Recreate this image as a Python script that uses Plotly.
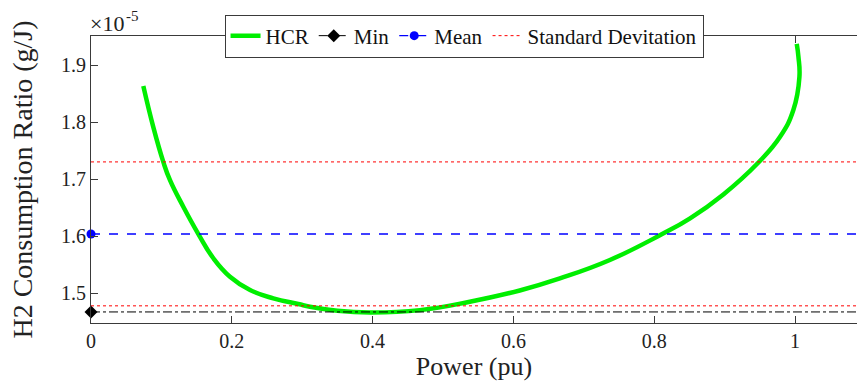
import plotly.graph_objects as go

# HCR curve (power in pu, ratio in units of 1e-5 g/J)
power = [0.0743, 0.0885, 0.1027, 0.1122, 0.1311, 0.1525, 0.1738, 0.1974, 0.2259, 0.2590,
         0.2945, 0.3110, 0.3500, 0.3960, 0.4670, 0.5380, 0.6090, 0.6660, 0.7370,
         0.8106, 0.8509, 0.8982, 0.9480, 0.9787, 0.9976, 1.0062, 1.0048, 1.0024]
hcr = [1.863, 1.791, 1.730, 1.698, 1.6514, 1.6035, 1.561, 1.5286, 1.5053, 1.4907,
       1.4807, 1.476, 1.469, 1.466, 1.470, 1.4847, 1.5045, 1.5257, 1.558,
       1.603, 1.631, 1.673, 1.729, 1.774, 1.821, 1.879, 1.9146, 1.937]

min_val = 1.4668
mean_val = 1.6035
std_upper = 1.730
std_lower = 1.4775

x_ticks = [0, 0.2, 0.4, 0.6, 0.8, 1]
x_tick_labels = ["0", "0.2", "0.4", "0.6", "0.8", "1"]
y_ticks = [1.5, 1.6, 1.7, 1.8, 1.9]
y_tick_labels = ["1.5", "1.6", "1.7", "1.8", "1.9"]

x_range = [0, 1.088]
y_range = [1.4474, 1.9509]
h_x = [0, 5]

FONT = "Liberation Serif"
AX = "#3a3a3a"
TXT = "#222222"

fig = go.Figure()
fig.add_trace(go.Scatter(x=power, y=hcr, mode="lines", name="HCR",
                         line=dict(color="#00ee00", width=4.5, shape="spline", smoothing=1.3)))
fig.add_trace(go.Scatter(x=h_x, y=[min_val, min_val], mode="lines+markers", name="Min",
                         line=dict(color="black", width=1, dash="dashdot"),
                         marker=dict(symbol="diamond", size=10, color="black"),
                         cliponaxis=False))
fig.add_trace(go.Scatter(x=h_x, y=[mean_val, mean_val], mode="lines+markers", name="Mean",
                         line=dict(color="#0000ff", width=1.3, dash="dash"),
                         marker=dict(symbol="circle", size=9, color="#0000ff"),
                         cliponaxis=False))
fig.add_trace(go.Scatter(x=h_x, y=[std_upper, std_upper], mode="lines",
                         name="Standard Devitation",
                         line=dict(color="#ff0000", width=1, dash="dot")))
fig.add_trace(go.Scatter(x=h_x, y=[std_lower, std_lower], mode="lines",
                         showlegend=False,
                         line=dict(color="#ff0000", width=1, dash="dot")))

fig.update_layout(
    width=857, height=385,
    margin=dict(l=91, r=0, t=36, b=62),
    paper_bgcolor="white", plot_bgcolor="white",
    font=dict(family=FONT, size=19, color=TXT),
    legend=dict(orientation="h", x=0.487, xanchor="center", y=1.0, yanchor="middle",
                bgcolor="white", bordercolor=AX, borderwidth=1,
                font=dict(family=FONT, size=21, color="#111"),
                tracegroupgap=0, itemwidth=30),
    xaxis=dict(range=x_range, tickvals=x_ticks, ticktext=x_tick_labels,
               ticks="inside", ticklen=7, tickcolor=AX, showline=True, linecolor=AX,
               linewidth=1, mirror="ticks", showgrid=False, zeroline=False,
               title=dict(text="Power (pu)", standoff=3,
                          font=dict(family=FONT, size=26, color=TXT)),
               tickfont=dict(family=FONT, size=20, color=TXT)),
    yaxis=dict(range=y_range, tickvals=y_ticks, ticktext=y_tick_labels,
               ticks="inside", ticklen=7, tickcolor=AX, showline=True, linecolor=AX,
               linewidth=1, mirror=False, showgrid=False, zeroline=False,
               title=dict(text="H2 Consumption Ratio (g/J)", standoff=20,
                          font=dict(family=FONT, size=28, color=TXT)),
               tickfont=dict(family=FONT, size=20, color=TXT)),
    annotations=[
        dict(text="×10", xref="paper", yref="paper", x=0, y=1,
             xanchor="left", yanchor="bottom", showarrow=False,
             font=dict(family=FONT, size=22, color=TXT), yshift=-2, xshift=-3),
        dict(text="-5", xref="paper", yref="paper", x=0, y=1,
             xanchor="left", yanchor="bottom", showarrow=False,
             font=dict(family=FONT, size=15, color=TXT), yshift=10, xshift=33),
    ],
)

fig.write_html("out.html")
